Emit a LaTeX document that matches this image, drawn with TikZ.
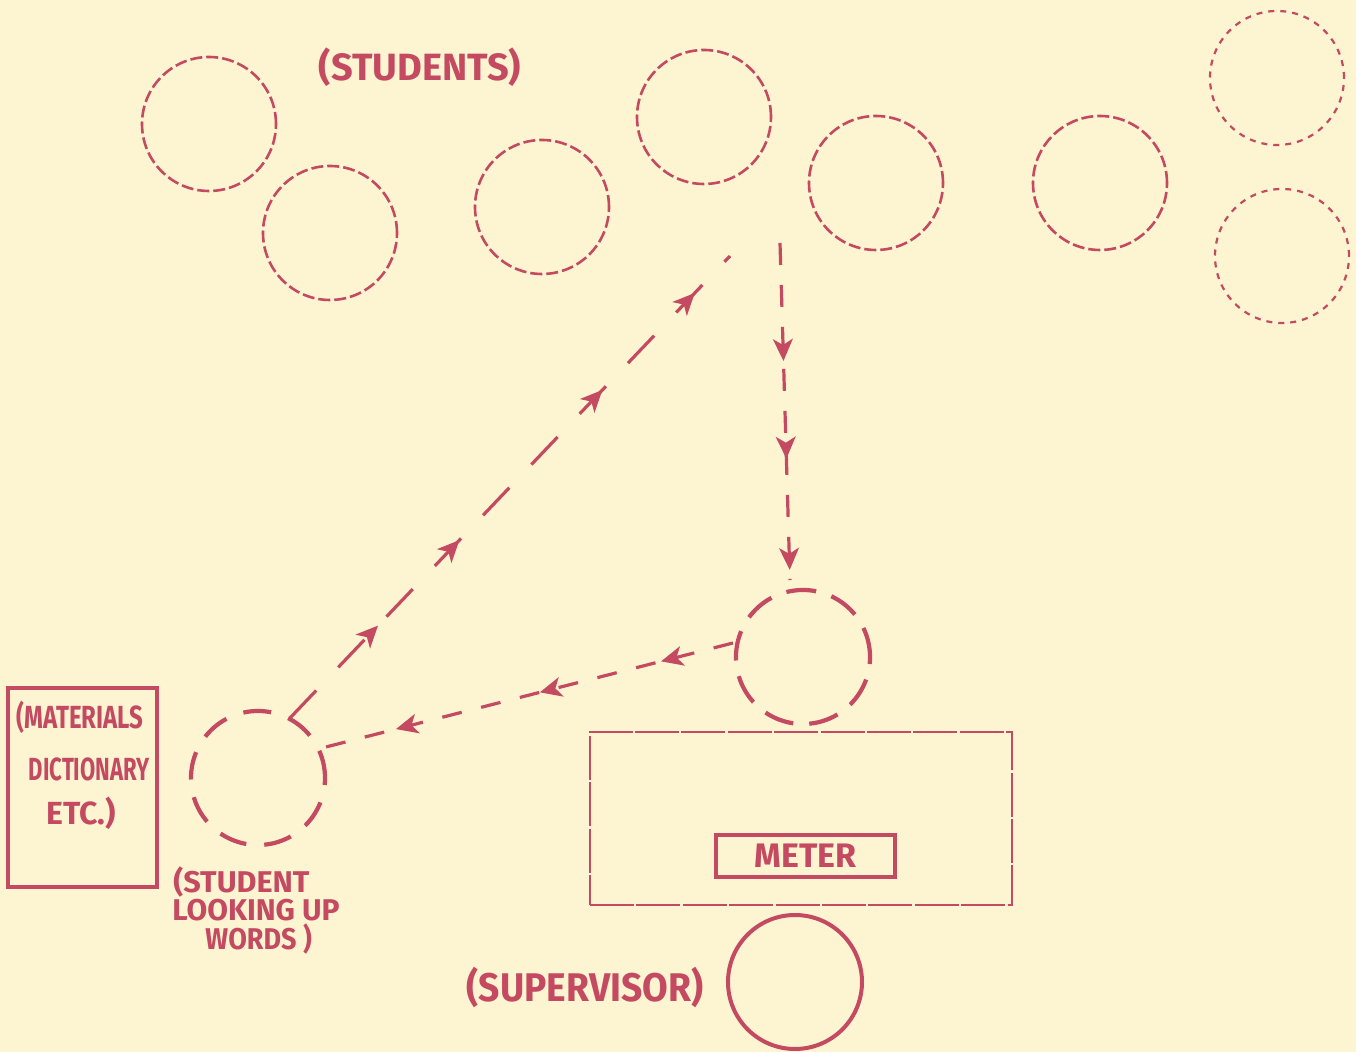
\documentclass[tikz,border=0pt]{standalone}
\usepackage{fontspec}
\setmainfont{Fira Sans}
\usetikzlibrary{arrows.meta,decorations.markings}
\definecolor{paper}{HTML}{FDF4D1}
\definecolor{ink}{HTML}{C44A62}
\tikzset{
  seat/.style={circle, draw=ink, line width=1.3pt, minimum size=67pt, inner sep=0pt, dash pattern=on 6pt off 2pt},
  faintseat/.style={seat, line width=1.1pt, dash pattern=on 3pt off 3pt},
  mover/.style={circle, draw=ink, line width=2.1pt, minimum size=67pt, inner sep=0pt, dash pattern=on 15pt off 8pt},
  boss/.style={circle, draw=ink, line width=2pt, minimum size=67pt, inner sep=0pt},
  lbl/.style={text=ink, font=\bfseries\fontsize{#1}{#1}\selectfont, inner sep=0pt},
  lbl/.default=17pt,
  capline/.style={lbl=15pt, text height=10.5pt, text depth=0pt, anchor=base west},
  flow/.style={draw=ink, line width=1.6pt},
  tipat/.style={postaction={decorate, decoration={markings, mark=at position #1 with {\arrow[solid, ink, line width=1pt]{Stealth[length=11pt,width=10pt,inset=3pt]}}}}},
}
\begin{document}
\begin{tikzpicture}[x=0.5pt,y=-0.5pt]
\useasboundingbox[fill=paper] (0,0) rectangle (1356,1052);
% students
\node[seat] (s1) at (209,124) {};
\node[seat] (s2) at (330,233) {};
\node[seat] (s3) at (542,207) {};
\node[seat] (s4) at (704,117) {};
\node[seat] (s5) at (876,183) {};
\node[seat] (s6) at (1100,183) {};
\node[faintseat] (s7) at (1277,78) {};
\node[faintseat] (s8) at (1282,256) {};
\node[lbl=19pt] (studentslbl) at (420,67) {(STUDENTS)};
% moving student and student at materials
\node[mover] (m) at (803,657) {};
\node[mover, dash pattern=on 14pt off 9pt] (w) at (258,778) {};
% supervisor desk
\node[draw=ink, line width=1.4pt, dash pattern=on 22pt off 1.2pt, minimum width=211pt, minimum height=86.5pt, inner sep=0pt] (desk) at (801,818.5) {};
\node[draw=ink, line width=2pt, minimum width=89.5pt, minimum height=21pt, inner sep=0pt] (meter) at (805.5,856) {};
\node[lbl=17pt] (meterlbl) at (meter.center) {METER};
\node[boss] (sup) at (795,982) {};
\node[lbl=20pt] (suplbl) at (585,988) {\scalebox{0.93}[1]{(SUPERVISOR)}};
% materials box
\node[draw=ink, line width=1.6pt, minimum width=74.5pt, minimum height=99.5pt, inner sep=0pt] (mat) at (82.5,787.5) {};
\node[lbl=16pt] (mat1) at (80,717) {\scalebox{0.75}[1]{(MATERIALS}};
\node[lbl=16pt] (mat2) at (89,769) {\scalebox{0.69}[1]{DICTIONARY}};
\node[lbl=16pt] (mat3) at (81,813) {ETC.)};
\node[capline] (wl1) at (173,893) {\scalebox{1.02}[1]{(STUDENT}};
\node[capline] (wl2) at (172,921) {\scalebox{1.0}[1]{LOOKING UP}};
\node[capline] (wl3) at (205,950) {\scalebox{0.9}[1]{WORDS )}};
% flows
\coordinate (vstart) at (780,243);
\coordinate (vend) at (790,580);
\draw[flow, dash pattern=on 11pt off 10pt, tipat=0.35, tipat=0.64, tipat=0.97] (vstart) -- (vend);
\coordinate (dstart) at (290,718);
\coordinate (dend) at (730,256);
\draw[flow, dash pattern=on 19pt off 16pt, tipat=0.20, tipat=0.385, tipat=0.71, tipat=0.92] (dstart) -- (dend);
\coordinate (lstart) at (733,643);
\coordinate (lend) at (322,748);
\draw[flow, dash pattern=on 10pt off 10pt, tipat=0.175, tipat=0.47, tipat=0.82] (lstart) -- (lend);
\end{tikzpicture}
\end{document}
